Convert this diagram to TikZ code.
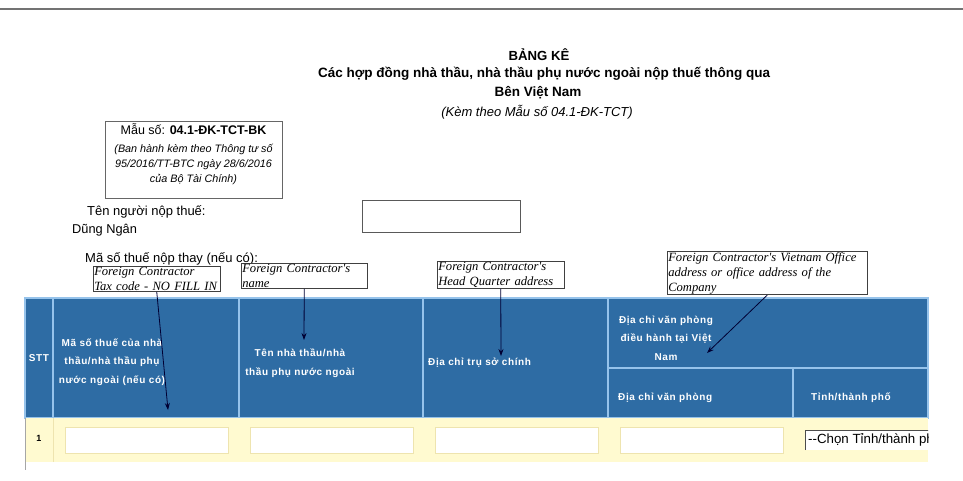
\documentclass[tikz,border=0pt]{standalone}
\usepackage{fontspec}
\setmainfont{Liberation Sans}
\newfontfamily\notefont{Liberation Serif}
\newfontfamily\hdrfont[LetterSpace=6]{Liberation Sans}
\usetikzlibrary{positioning,arrows.meta}

\definecolor{hdrblue}{RGB}{46,108,164}
\definecolor{cellline}{RGB}{150,195,235}
\definecolor{rowyellow}{RGB}{255,250,208}
\definecolor{inborder}{RGB}{238,228,175}

\begin{document}
\begin{tikzpicture}[x=1pt,y=-1pt,
    hcell/.style={draw=cellline, line width=1.2pt, fill=hdrblue, inner sep=0pt},
    htext/.style={text=white, font=\hdrfont\bfseries\fontsize{10}{18.5}\selectfont, align=center, inner sep=0pt},
    note/.style={draw=black!75, line width=0.9pt, fill=white, font=\notefont\itshape\fontsize{12.6}{15}\selectfont, align=left, inner sep=0.8pt},
    inbox/.style={draw=inborder, fill=white, line width=1pt, minimum width=163pt, minimum height=26pt, inner sep=0pt},
    pointer/.style={-{Stealth[length=7pt,width=5pt]}, line width=0.8pt, draw=black!80!blue}]
    \useasboundingbox (0,0) rectangle (963,480);
    \draw[black!55, line width=2pt] (0,9) -- (963,9);

    % Define nodes
    \node (title) at (539,55) {\bfseries\fontsize{13.2}{15}\selectfont BẢNG KÊ};
    \node (sub1) at (544,74) {\bfseries\fontsize{13.5}{15}\selectfont Các hợp đồng nhà thầu, nhà thầu phụ nước ngoài nộp thuế thông qua};
    \node (sub2) at (538,93) {\bfseries\fontsize{13.5}{15}\selectfont Bên Việt Nam};
    \node (sub3) at (537,112) {\itshape\fontsize{13}{15}\selectfont (Kèm theo Mẫu số 04.1-ĐK-TCT)};

    \node[draw=black!60, line width=1pt, minimum width=177pt, minimum height=77pt] (mau) at (193.5,159.5) {};
    \node[align=center, inner sep=0pt, font=\itshape\fontsize{10.8}{13}\selectfont] (mautext) at (193.5,154.5)
        {{\upshape\fontsize{12.5}{13}\selectfont Mẫu số: \textbf{04.1-ĐK-TCT-BK}}\\[4.5pt]
         (Ban hành kèm theo Thông tư số\\[2.2pt]
         95/2016/TT-BTC ngày 28/6/2016\\[2.2pt]
         của Bộ Tài Chính)};

    \node[anchor=west, inner sep=0pt, font=\fontsize{13}{15}\selectfont] (ten) at (87,212) {Tên người nộp thuế:};
    \node[anchor=west, inner sep=0pt, font=\fontsize{12.8}{15}\selectfont] (dung) at (72,230) {Dũng Ngân};
    \node[anchor=west, inner sep=0pt, font=\fontsize{13}{15}\selectfont] (mst) at (85,259) {Mã số thuế nộp thay (nếu có):};
    \node[draw=black!65, line width=1pt, minimum width=158pt, minimum height=32pt] (tenbox) at (441,216) {};

    % table header
    \node[hcell, minimum width=28pt, minimum height=120pt] (cstt) at (39,358) {};
    \node[hcell, minimum width=186pt, minimum height=120pt] (cmst) at (146,358) {};
    \node[hcell, minimum width=184pt, minimum height=120pt] (cten) at (331,358) {};
    \node[hcell, minimum width=185pt, minimum height=120pt] (chq) at (515.5,358) {};
    \node[hcell, minimum width=320pt, minimum height=70pt] (cvn) at (768,333) {};
    \node[hcell, minimum width=185pt, minimum height=50pt] (cvp) at (700.5,393) {};
    \node[hcell, minimum width=135pt, minimum height=50pt] (ctinh) at (860.5,393) {};

    \node[htext] (tstt) at (cstt) {STT};
    \node[htext] (tmst) at (112,362) {Mã số thuế của nhà\\thầu/nhà thầu phụ\\nước ngoài (nếu có)};
    \node[htext] (tten) at (300,363) {Tên nhà thầu/nhà\\thầu phụ nước ngoài};
    \node[htext, anchor=west] (thq) at (428,363) {Địa chỉ trụ sở chính};
    \node[htext] (tvn) at (666,338) {Địa chỉ văn phòng\\điều hành tại Việt\\Nam};
    \node[htext, anchor=west] (tvp) at (618,398) {Địa chỉ văn phòng};
    \node[htext, anchor=west] (ttinh) at (811,398) {Tỉnh/thành phố};

    % table row
    \fill[rowyellow] (25,418) rectangle (928,462);
    \draw[black!35, line width=0.8pt] (25,418) -- (25,470);
    \draw[inborder, line width=0.8pt] (53,418) -- (53,462);
    \node[font=\bfseries\fontsize{9}{10}\selectfont] (one) at (39,438) {1};
    \node[inbox] (in1) at (146.5,440) {};
    \node[inbox] (in2) at (331.5,440) {};
    \node[inbox] (in3) at (516.5,440) {};
    \node[inbox] (in4) at (701.5,440) {};
    \begin{scope}
        \clip (800,420) rectangle (928,460);
        \fill[white] (805,430) rectangle (940,450);
        \draw[black!70, line width=1pt] (805,450) -- (805,430) -- (940,430);
        \node[anchor=west, inner sep=0pt, font=\fontsize{13.3}{15}\selectfont] (chon) at (808,440) {-{}-Chọn Tỉnh/thành phố};
    \end{scope}

    % notes
    \node[note, text width=125pt, anchor=north west] (n1) at (93,266) {Foreign Contractor\\Tax code - NO FILL IN};
    \node[note, text width=124pt, anchor=north west] (n2) at (241,263) {Foreign Contractor's\\name};
    \node[note, text width=125pt, anchor=north west] (n3) at (437,261) {Foreign Contractor's\\Head Quarter address};
    \node[note, text width=198pt, anchor=north west] (n4) at (667,251) {Foreign Contractor's Vietnam Office\\address or office address of the\\Company};

    % Connect nodes
    \coordinate (p1) at (168,410);
    \coordinate (p2) at (304,340);
    \coordinate (p3) at (501,356);
    \coordinate (p4) at (707,353);
    \draw[pointer] (n1.south) -- (p1);
    \draw[pointer] (n2.south) -- (p2);
    \draw[pointer] (n3.south) -- (p3);
    \draw[pointer] (n4.south) -- (p4);
\end{tikzpicture}
\end{document}
